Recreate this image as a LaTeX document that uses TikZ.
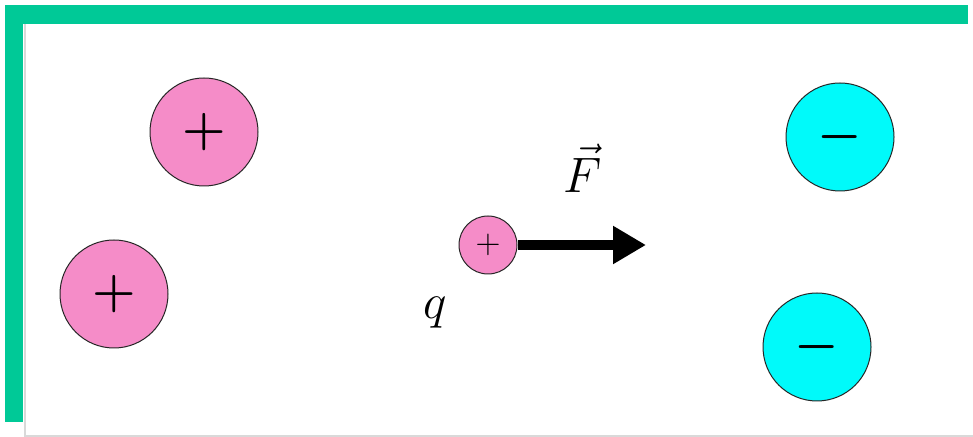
\documentclass[tikz,border=0pt]{standalone}
\usepackage{amsmath}
\usepackage{tikz}
\usetikzlibrary{arrows.meta}
\usepackage{xcolor}

\definecolor{waku}{RGB}{0,201,151}
\definecolor{sei}{RGB}{245,140,200}
\definecolor{fu}{RGB}{0,250,250}

\tikzset{
  charge/.style={circle,draw=black!85,line width=0.5pt,inner sep=0pt,
    minimum size=54pt,font=\fontsize{32}{32}\selectfont},
  plus/.style={charge,fill=sei},
  minus/.style={charge,fill=fu},
}

\begin{document}
\begin{tikzpicture}[x=0.5pt,y=-0.5pt]
        \useasboundingbox (0,0) rectangle (973,437);

        % 枠
        \fill[white] (0,0) rectangle (973,437);
        \draw[black!15,line width=0.8pt] (25,24)--(25,436)--(973,436);
        \fill[waku] (5,5) rectangle (968,24);
        \fill[waku] (5,5) rectangle (23,422);

        % --- 正電荷 ---
        \node[plus] (pA) at (204,132) {$\boldsymbol{+}$};
        \node[plus] (pB) at (114,294) {$\boldsymbol{+}$};

        % --- 負電荷 ---
        \node[minus] (nA) at (840,137) {$\boldsymbol{-}$};
        \node[minus] (nB) at (817,347) {$\boldsymbol{-}$};

        % --- 試験電荷 q ---
        \node[plus,minimum size=29pt,font=\fontsize{17}{17}\selectfont] (q) at (488,245) {$+$};
        \node[font=\fontsize{35}{35}\selectfont] (qlab) at (435,313) {$q$};

        % 力 F
        \coordinate (tip) at (646,245);
        \draw[line width=5pt,-{Triangle[length=16.5pt,width=18pt]}] (q.east)--(tip);
        \node[font=\fontsize{35}{35}\selectfont] (flab) at (583,168) {$\vec{F}$};
      \end{tikzpicture}
\end{document}
